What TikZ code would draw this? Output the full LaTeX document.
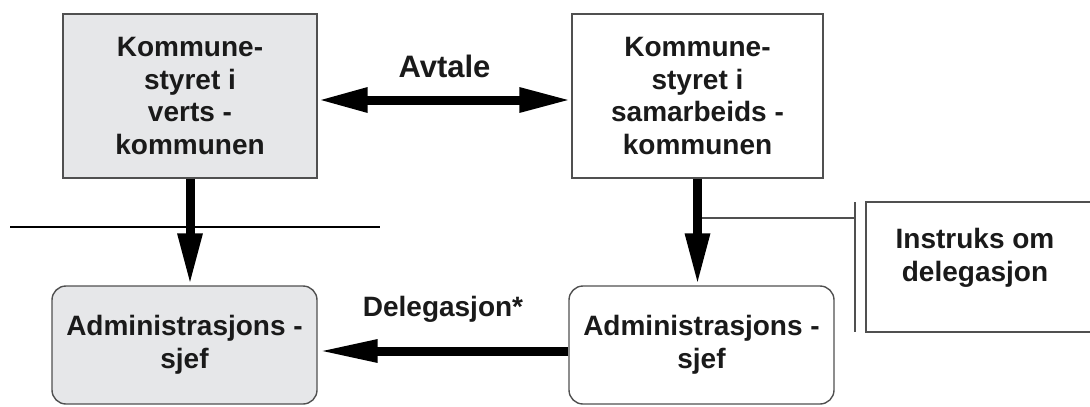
\documentclass[tikz,border=0pt]{standalone}
\usepackage{fontspec}
\setmainfont{Liberation Sans}
\usetikzlibrary{arrows.meta}
\definecolor{boxgrey}{HTML}{E6E7E9}
\definecolor{rimgrey}{HTML}{505050}
\definecolor{inkblack}{HTML}{1A1A1A}

\begin{document}
\begin{tikzpicture}[x=1pt,y=-1pt,
  boxtext/.style={font=\bfseries\fontsize{28}{32.5}\selectfont,text=inkblack,align=center},
  org/.style={boxtext,draw=rimgrey,line width=1.4pt,inner sep=0pt},
  host/.style={org,fill=boxgrey},
  roundbox/.style={rounded corners=14pt},
  bigtip/.style={Triangle[length=#1,width=23pt]},
  thick arrow/.style={line width=9pt,-{Triangle[length=52pt,width=23pt]}},
  thin rule/.style={line width=1.4pt}]
\useasboundingbox (0,0) rectangle (1090,407);

% the two municipal councils
\node[host,minimum width=254pt,minimum height=164pt] (kvert) at (190,96)
  {Kommune-\\styret i\\verts -\\kommunen};
\node[org,fill=white,minimum width=251pt,minimum height=164pt] (ksam) at (697.5,96)
  {Kommune-\\styret i\\samarbeids -\\kommunen};

% the two chief officers
\node[host,roundbox,minimum width=265pt,minimum height=118pt] (adm1) at (184.5,345)
  {Administrasjons -\\sjef};
\node[org,roundbox,minimum width=265pt,minimum height=118pt] (adm2) at (701.5,345)
  {Administrasjons -\\sjef};

% instruction box, runs off the right edge
\node[org,minimum width=234pt,minimum height=130pt] (instr) at (983,267) {};
\node[boxtext] (instrtext) at (975,258) {Instruks om\\delegasjon};

\coordinate (bartop) at (855,202);
\coordinate (barbot) at (855,332);
\coordinate (tap) at (697.5,218);
\coordinate (sepL) at (10,227);
\coordinate (sepR) at (380,227);

\draw[thin rule] (sepL) -- (sepR);
\draw[thin rule,rimgrey] (tap) -- (tap -| bartop);
\draw[thin rule,rimgrey] (bartop) -- (barbot);

\draw[thick arrow] (kvert.south) -- (kvert.south |- adm1.north);
\draw[thick arrow] (ksam.south) -- (ksam.south |- adm2.north);
\draw[line width=9pt,{Triangle[length=50pt,width=23pt]}-{Triangle[length=52pt,width=23pt]}]
  ([yshift=-4pt]kvert.east) -- ([yshift=-4pt]ksam.west)
  node[midway,anchor=base,yshift=23pt,inner sep=0pt,text=inkblack,
       font=\bfseries\fontsize{31}{36}\selectfont] {Avtale};
\draw[line width=9pt,-{Triangle[length=60pt,width=21pt]}]
  ([yshift=-6pt]adm2.west) -- ([yshift=-6pt]adm1.east)
  node[midway,anchor=base,yshift=35pt,inner sep=0pt,boxtext] {Delegasjon*};
\end{tikzpicture}
\end{document}
